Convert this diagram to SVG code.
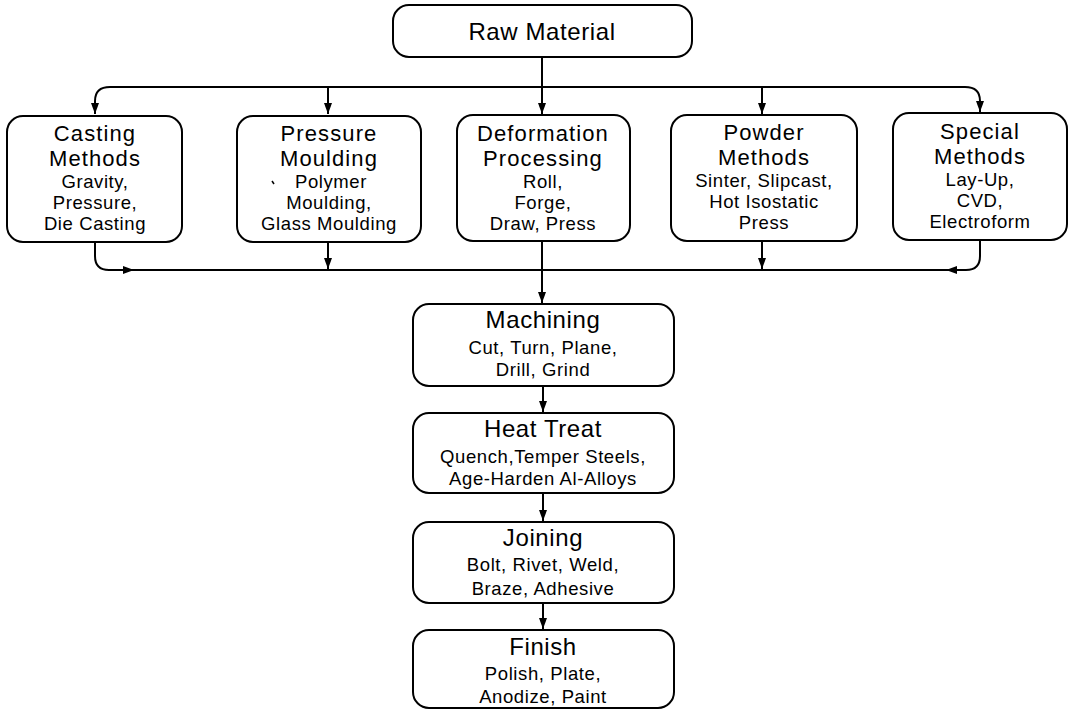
<svg xmlns="http://www.w3.org/2000/svg" width="1077" height="714" viewBox="0 0 1077 714">
  <style>
    .box { fill: #ffffff; stroke: #000000; stroke-width: 2; }
    .ln { fill: none; stroke: #000000; stroke-width: 2; }
    .t { font-family: "Liberation Sans", Arial, Helvetica, sans-serif; font-size: 22px; letter-spacing: 1.1px; text-anchor: middle; fill: #000000; }
    .r { font-family: "Liberation Sans", Arial, Helvetica, sans-serif; font-size: 24px; letter-spacing: 0.6px; text-anchor: middle; fill: #000000; }
    .s { font-family: "Liberation Sans", Arial, Helvetica, sans-serif; font-size: 18.5px; letter-spacing: 0.6px; text-anchor: middle; fill: #000000; }
  </style>
  <defs>
    <marker id="arr" markerUnits="userSpaceOnUse" markerWidth="12" markerHeight="10" refX="11" refY="4" orient="auto">
      <path d="M0,0 L11,4 L0,8 Z" fill="#000000"/>
    </marker>
  </defs>
  <rect width="1077" height="714" fill="#ffffff"/>

  <g id="connectors">
    <path class="ln" d="M542,57 V114" marker-end="url(#arr)"/>
    <path class="ln" d="M110,87 H965"/>
    <path class="ln" d="M110,87 Q95,87 95,101 V114" marker-end="url(#arr)"/>
    <path class="ln" d="M965,87 Q980,87 980,101 V112" marker-end="url(#arr)"/>
    <path class="ln" d="M328,87 V114" marker-end="url(#arr)"/>
    <path class="ln" d="M762,87 V114" marker-end="url(#arr)"/>
    <path class="ln" d="M95,242 V256 Q95,270 109,270 H134" marker-end="url(#arr)"/>
    <path class="ln" d="M109,270 H966"/>
    <path class="ln" d="M980,240 V256 Q980,270 966,270 H946" marker-end="url(#arr)"/>
    <path class="ln" d="M328,242 V269" marker-end="url(#arr)"/>
    <path class="ln" d="M762,241 V269" marker-end="url(#arr)"/>
    <path class="ln" d="M542,241 V303" marker-end="url(#arr)"/>
    <path class="ln" d="M543,386 V412" marker-end="url(#arr)"/>
    <path class="ln" d="M543,493 V521" marker-end="url(#arr)"/>
    <path class="ln" d="M543,603 V629" marker-end="url(#arr)"/>
  </g>

  <g id="raw-material">
    <rect class="box" x="393" y="5" width="299" height="52" rx="16"/>
    <text class="r" x="542" y="40">Raw Material</text>
  </g>

  <g id="casting">
    <rect class="box" x="7" y="116" width="175" height="126" rx="16"/>
    <text class="t" x="95" y="141">Casting</text>
    <text class="t" x="95" y="166">Methods</text>
    <text class="s" x="95" y="188">Gravity,</text>
    <text class="s" x="95" y="209">Pressure,</text>
    <text class="s" x="95" y="230">Die Casting</text>
  </g>

  <g id="pressure-moulding">
    <rect class="box" x="237" y="116" width="184" height="126" rx="16"/>
    <text class="t" x="329" y="141">Pressure</text>
    <text class="t" x="329" y="166">Moulding</text>
    <text class="s" x="331" y="188">Polymer</text>
    <text class="s" x="329" y="209">Moulding,</text>
    <text class="s" x="329" y="230">Glass Moulding</text>
    <path d="M272,181 L274,184" stroke="#000000" stroke-width="1.5" fill="none"/>
  </g>

  <g id="deformation">
    <rect class="box" x="457" y="115" width="173" height="126" rx="16"/>
    <text class="t" x="543" y="141">Deformation</text>
    <text class="t" x="543" y="166">Processing</text>
    <text class="s" x="543" y="188">Roll,</text>
    <text class="s" x="543" y="209">Forge,</text>
    <text class="s" x="543" y="230">Draw, Press</text>
  </g>

  <g id="powder">
    <rect class="box" x="671" y="115" width="186" height="126" rx="16"/>
    <text class="t" x="764" y="140">Powder</text>
    <text class="t" x="764" y="165">Methods</text>
    <text class="s" x="764" y="187">Sinter, Slipcast,</text>
    <text class="s" x="764" y="208">Hot Isostatic</text>
    <text class="s" x="764" y="229">Press</text>
  </g>

  <g id="special">
    <rect class="box" x="893" y="113" width="174" height="127" rx="16"/>
    <text class="t" x="980" y="139">Special</text>
    <text class="t" x="980" y="164">Methods</text>
    <text class="s" x="980" y="186">Lay-Up,</text>
    <text class="s" x="980" y="207">CVD,</text>
    <text class="s" x="980" y="228">Electroform</text>
  </g>

  <g id="machining">
    <rect class="box" x="413" y="304" width="261" height="82" rx="16"/>
    <text class="r" x="543" y="328">Machining</text>
    <text class="s" x="543" y="354">Cut, Turn, Plane,</text>
    <text class="s" x="543" y="376">Drill, Grind</text>
  </g>

  <g id="heat-treat">
    <rect class="box" x="413" y="413" width="261" height="80" rx="16"/>
    <text class="r" x="543" y="437">Heat Treat</text>
    <text class="s" x="543" y="463">Quench,Temper Steels,</text>
    <text class="s" x="543" y="485">Age-Harden Al-Alloys</text>
  </g>

  <g id="joining">
    <rect class="box" x="413" y="522" width="261" height="81" rx="16"/>
    <text class="r" x="543" y="546">Joining</text>
    <text class="s" x="543" y="571">Bolt, Rivet, Weld,</text>
    <text class="s" x="543" y="595">Braze, Adhesive</text>
  </g>

  <g id="finish">
    <rect class="box" x="413" y="630" width="261" height="78" rx="16"/>
    <text class="r" x="543" y="655">Finish</text>
    <text class="s" x="543" y="680">Polish, Plate,</text>
    <text class="s" x="543" y="703">Anodize, Paint</text>
  </g>
</svg>
